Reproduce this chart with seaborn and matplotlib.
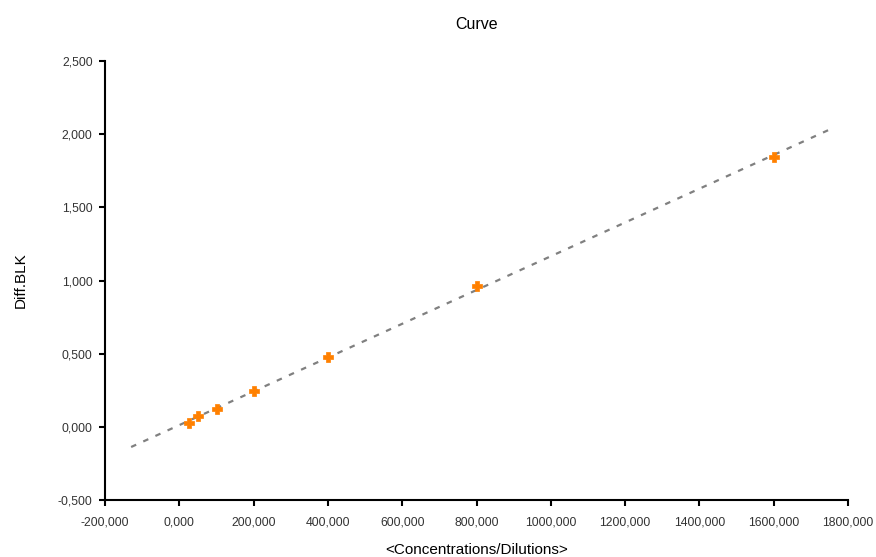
import numpy as np
import pandas as pd
import matplotlib
matplotlib.use("Agg")
import matplotlib.pyplot as plt
import seaborn as sns
from matplotlib.ticker import FuncFormatter

# Data
conc = [25, 50, 100, 200, 400, 800, 1600]
diff_blk = [0.025, 0.075, 0.12, 0.245, 0.48, 0.96, 1.845]
trend_range = [-130, 1750]

x_ticks = [-200, 0, 200, 400, 600, 800, 1000, 1200, 1400, 1600, 1800]
y_ticks = [-0.5, 0.0, 0.5, 1.0, 1.5, 2.0, 2.5]

sns.set_theme(style="white")
plt.rcParams['font.family'] = ['Liberation Sans', 'DejaVu Sans']

fig = plt.figure(figsize=(8.76, 5.57), dpi=100)
ax = fig.add_axes([0.12, 0.1023, 0.848, 0.788])

df = pd.DataFrame({"x": conc, "y": diff_blk})

# linear trend fitted from the data
slope, intercept = np.polyfit(conc, diff_blk, 1)
tx = np.array(trend_range, dtype=float)
ty = slope * tx + intercept
ax.plot(tx, ty, color="#808080", linestyle=(0, (2.5, 3.5)), linewidth=1.6, zorder=1)

sns.scatterplot(data=df, x="x", y="y", ax=ax, marker="P", s=45,
                color="#FF8000", edgecolor="#FF8000", linewidth=0.5, zorder=3)

ax.set_xlim(-200, 1800)
ax.set_ylim(-0.5, 2.5)
ax.set_xticks(x_ticks)
ax.set_yticks(y_ticks)
fmt = FuncFormatter(lambda v, p: f"{v:.3f}".replace(".", ","))
ax.xaxis.set_major_formatter(fmt)
ax.yaxis.set_major_formatter(fmt)

for s in ["top", "right"]:
    ax.spines[s].set_visible(False)
for s in ["left", "bottom"]:
    ax.spines[s].set_visible(True)
    ax.spines[s].set_color("black")
    ax.spines[s].set_linewidth(1.5)

ax.tick_params(axis="both", which="major", direction="out", length=4, width=1.5,
               color="black", labelsize=8.8, labelcolor="#333333", pad=5,
               bottom=True, left=True)
ax.tick_params(axis="x", pad=8)

ax.set_xlabel("<Concentrations/Dilutions>", fontsize=11, labelpad=10, color="black")
ax.set_ylabel("Diff.BLK", fontsize=11, labelpad=22, color="black")
ax.set_title("Curve", fontsize=11.5, pad=23, color="black")
ax.grid(False)

fig.savefig("out.png", dpi=100)
